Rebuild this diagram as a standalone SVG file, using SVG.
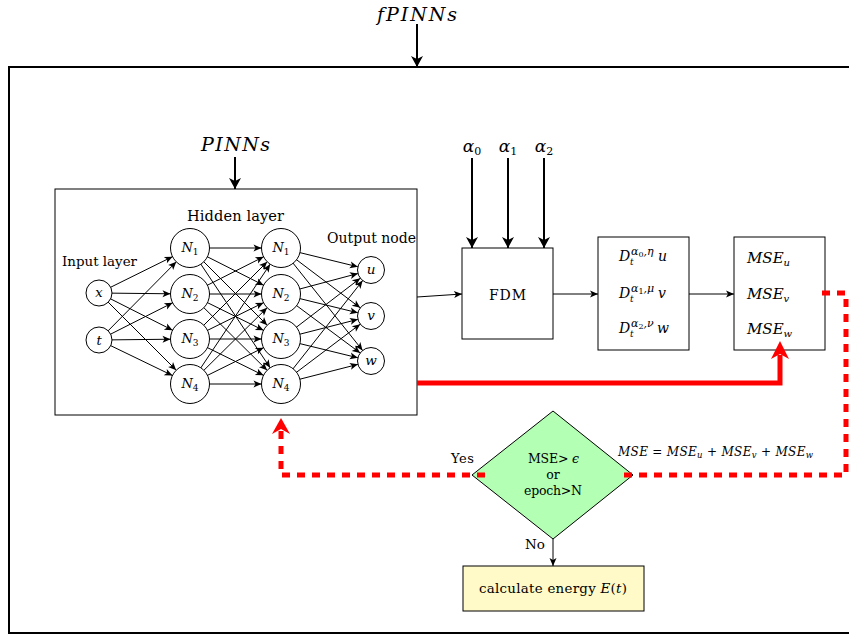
<svg xmlns="http://www.w3.org/2000/svg" width="849" height="639" viewBox="0 0 849 639">
<style>
.t{font-family:"DejaVu Serif","Liberation Serif",serif;fill:#000}
.mi{font-family:"DejaVu Serif","Liberation Serif",serif;font-style:italic;fill:#000}
.rm{font-style:normal}
.ln{stroke:#000;stroke-width:1;fill:none}
.th{stroke:#000;stroke-width:2;fill:none}
.nd{fill:#fff;stroke:#000;stroke-width:1}
.bx{fill:#fff;stroke:#000;stroke-width:1}
</style>
<defs>
<marker id="ah" markerUnits="userSpaceOnUse" orient="auto" overflow="visible" refX="0" refY="0" markerWidth="10" markerHeight="10"><path d="M0,0 L-8,-3.5 L-6,0 L-8,3.5 z" fill="#000"/></marker>
<marker id="ahH" markerUnits="userSpaceOnUse" orient="auto" overflow="visible" refX="19.5" refY="0" markerWidth="10" markerHeight="10"><path d="M0,0 L-8,-3.5 L-6,0 L-8,3.5 z" fill="#000"/></marker>
<marker id="ahO" markerUnits="userSpaceOnUse" orient="auto" overflow="visible" refX="13.5" refY="0" markerWidth="10" markerHeight="10"><path d="M0,0 L-8,-3.5 L-6,0 L-8,3.5 z" fill="#000"/></marker>
<marker id="ahT" markerUnits="userSpaceOnUse" orient="auto" overflow="visible" refX="0" refY="0" markerWidth="12" markerHeight="12"><path d="M0,0 L-11,-6 L-8,0 L-11,6 z" fill="#000"/></marker>
</defs>

<g id="outer"><rect x="9" y="67" width="870" height="566" fill="none" stroke="#000" stroke-width="2"/></g>
<g id="title"><text class="mi" x="417" y="21" font-size="19" text-anchor="middle" textLength="80" lengthAdjust="spacing">fPINNs</text></g>
<g id="pinns-label"><text class="mi" x="235.5" y="151" font-size="19" text-anchor="middle" textLength="69" lengthAdjust="spacing">PINNs</text></g>
<g id="pinns-box"><rect class="bx" x="55" y="189" width="362" height="226"/></g>

<g id="connectors">
<line class="th" x1="417" y1="24" x2="417" y2="67" marker-end="url(#ahT)"/>
<line class="th" x1="235" y1="157" x2="235" y2="189" marker-end="url(#ahT)"/>
<line class="th" x1="472" y1="158" x2="472" y2="248" marker-end="url(#ahT)"/>
<line class="th" x1="508" y1="158" x2="508" y2="248" marker-end="url(#ahT)"/>
<line class="th" x1="544" y1="158" x2="544" y2="248" marker-end="url(#ahT)"/>
<line class="ln" x1="417" y1="297" x2="462" y2="294" marker-end="url(#ah)"/>
<line class="ln" x1="553" y1="294" x2="598" y2="294" marker-end="url(#ah)"/>
<line class="ln" x1="689" y1="294" x2="734" y2="294" marker-end="url(#ah)"/>
<line class="ln" x1="553" y1="539" x2="553" y2="566" marker-end="url(#ah)"/>
<line class="ln" x1="99" y1="293" x2="190" y2="248" marker-end="url(#ahH)"/>
<line class="ln" x1="99" y1="293" x2="190" y2="294" marker-end="url(#ahH)"/>
<line class="ln" x1="99" y1="293" x2="190" y2="339" marker-end="url(#ahH)"/>
<line class="ln" x1="99" y1="293" x2="190" y2="384" marker-end="url(#ahH)"/>
<line class="ln" x1="99" y1="340" x2="190" y2="248" marker-end="url(#ahH)"/>
<line class="ln" x1="99" y1="340" x2="190" y2="294" marker-end="url(#ahH)"/>
<line class="ln" x1="99" y1="340" x2="190" y2="339" marker-end="url(#ahH)"/>
<line class="ln" x1="99" y1="340" x2="190" y2="384" marker-end="url(#ahH)"/>
<line class="ln" x1="190" y1="248" x2="281" y2="248" marker-end="url(#ahH)"/>
<line class="ln" x1="190" y1="248" x2="281" y2="294" marker-end="url(#ahH)"/>
<line class="ln" x1="190" y1="248" x2="281" y2="339" marker-end="url(#ahH)"/>
<line class="ln" x1="190" y1="248" x2="281" y2="384" marker-end="url(#ahH)"/>
<line class="ln" x1="190" y1="294" x2="281" y2="248" marker-end="url(#ahH)"/>
<line class="ln" x1="190" y1="294" x2="281" y2="294" marker-end="url(#ahH)"/>
<line class="ln" x1="190" y1="294" x2="281" y2="339" marker-end="url(#ahH)"/>
<line class="ln" x1="190" y1="294" x2="281" y2="384" marker-end="url(#ahH)"/>
<line class="ln" x1="190" y1="339" x2="281" y2="248" marker-end="url(#ahH)"/>
<line class="ln" x1="190" y1="339" x2="281" y2="294" marker-end="url(#ahH)"/>
<line class="ln" x1="190" y1="339" x2="281" y2="339" marker-end="url(#ahH)"/>
<line class="ln" x1="190" y1="339" x2="281" y2="384" marker-end="url(#ahH)"/>
<line class="ln" x1="190" y1="384" x2="281" y2="248" marker-end="url(#ahH)"/>
<line class="ln" x1="190" y1="384" x2="281" y2="294" marker-end="url(#ahH)"/>
<line class="ln" x1="190" y1="384" x2="281" y2="339" marker-end="url(#ahH)"/>
<line class="ln" x1="190" y1="384" x2="281" y2="384" marker-end="url(#ahH)"/>
<line class="ln" x1="281" y1="248" x2="371" y2="270" marker-end="url(#ahO)"/>
<line class="ln" x1="281" y1="248" x2="371" y2="316" marker-end="url(#ahO)"/>
<line class="ln" x1="281" y1="248" x2="371" y2="361" marker-end="url(#ahO)"/>
<line class="ln" x1="281" y1="294" x2="371" y2="270" marker-end="url(#ahO)"/>
<line class="ln" x1="281" y1="294" x2="371" y2="316" marker-end="url(#ahO)"/>
<line class="ln" x1="281" y1="294" x2="371" y2="361" marker-end="url(#ahO)"/>
<line class="ln" x1="281" y1="339" x2="371" y2="270" marker-end="url(#ahO)"/>
<line class="ln" x1="281" y1="339" x2="371" y2="316" marker-end="url(#ahO)"/>
<line class="ln" x1="281" y1="339" x2="371" y2="361" marker-end="url(#ahO)"/>
<line class="ln" x1="281" y1="384" x2="371" y2="270" marker-end="url(#ahO)"/>
<line class="ln" x1="281" y1="384" x2="371" y2="316" marker-end="url(#ahO)"/>
<line class="ln" x1="281" y1="384" x2="371" y2="361" marker-end="url(#ahO)"/>
</g>

<g id="layer-labels">
<text class="t" x="99.5" y="266" font-size="13.4" text-anchor="middle" textLength="75" lengthAdjust="spacing">Input layer</text>
<text class="t" x="235.5" y="221" font-size="14.6" text-anchor="middle" textLength="97" lengthAdjust="spacing">Hidden layer</text>
<text class="t" x="371.5" y="243" font-size="14" text-anchor="middle" textLength="89" lengthAdjust="spacing">Output node</text>
</g>

<g id="in-x"><circle class="nd" cx="99" cy="293" r="13"/><text class="mi" x="99" y="297" font-size="13" text-anchor="middle">x</text></g>
<g id="in-t"><circle class="nd" cx="99" cy="340" r="13"/><text class="mi" x="99" y="344.5" font-size="13" text-anchor="middle">t</text></g>

<g id="h1-n1"><circle class="nd" cx="190" cy="248" r="19.5"/><text class="mi" x="190" y="252" font-size="13" text-anchor="middle">N<tspan class="rm" font-size="9" dy="3">1</tspan></text></g>
<g id="h1-n2"><circle class="nd" cx="190" cy="294" r="19.5"/><text class="mi" x="190" y="298" font-size="13" text-anchor="middle">N<tspan class="rm" font-size="9" dy="3">2</tspan></text></g>
<g id="h1-n3"><circle class="nd" cx="190" cy="339" r="19.5"/><text class="mi" x="190" y="343" font-size="13" text-anchor="middle">N<tspan class="rm" font-size="9" dy="3">3</tspan></text></g>
<g id="h1-n4"><circle class="nd" cx="190" cy="384" r="19.5"/><text class="mi" x="190" y="388" font-size="13" text-anchor="middle">N<tspan class="rm" font-size="9" dy="3">4</tspan></text></g>

<g id="h2-n1"><circle class="nd" cx="281" cy="248" r="19.5"/><text class="mi" x="281" y="252" font-size="13" text-anchor="middle">N<tspan class="rm" font-size="9" dy="3">1</tspan></text></g>
<g id="h2-n2"><circle class="nd" cx="281" cy="294" r="19.5"/><text class="mi" x="281" y="298" font-size="13" text-anchor="middle">N<tspan class="rm" font-size="9" dy="3">2</tspan></text></g>
<g id="h2-n3"><circle class="nd" cx="281" cy="339" r="19.5"/><text class="mi" x="281" y="343" font-size="13" text-anchor="middle">N<tspan class="rm" font-size="9" dy="3">3</tspan></text></g>
<g id="h2-n4"><circle class="nd" cx="281" cy="384" r="19.5"/><text class="mi" x="281" y="388" font-size="13" text-anchor="middle">N<tspan class="rm" font-size="9" dy="3">4</tspan></text></g>

<g id="out-u"><circle class="nd" cx="371" cy="270" r="13.5"/><text class="mi" x="371" y="274" font-size="13.5" text-anchor="middle">u</text></g>
<g id="out-v"><circle class="nd" cx="371" cy="316" r="13.5"/><text class="mi" x="371" y="320" font-size="13.5" text-anchor="middle">v</text></g>
<g id="out-w"><circle class="nd" cx="371" cy="361" r="13.5"/><text class="mi" x="371" y="365" font-size="13.5" text-anchor="middle">w</text></g>

<g id="alphas">
<text class="mi" x="472" y="152" font-size="17" text-anchor="middle">α<tspan class="rm" font-size="11" dy="3">0</tspan></text>
<text class="mi" x="508" y="152" font-size="17" text-anchor="middle">α<tspan class="rm" font-size="11" dy="3">1</tspan></text>
<text class="mi" x="544" y="152" font-size="17" text-anchor="middle">α<tspan class="rm" font-size="11" dy="3">2</tspan></text>
</g>

<g id="fdm"><rect class="bx" x="462" y="248" width="91" height="91"/><text class="t" x="507.5" y="299.5" font-size="14" text-anchor="middle" textLength="37" lengthAdjust="spacing">FDM</text></g>

<g id="deriv">
<rect class="bx" x="598" y="237" width="91" height="113"/>
<text class="mi" x="619" y="261" font-size="14">D</text>
<text class="mi" x="630" y="265" font-size="9">t</text>
<text class="mi" x="631" y="255" font-size="11">α<tspan class="rm" font-size="8" dy="2">0</tspan><tspan dy="-2">,η</tspan></text>
<text class="mi" x="658" y="261" font-size="14">u</text>
<text class="mi" x="619" y="298" font-size="14">D</text>
<text class="mi" x="630" y="302" font-size="9">t</text>
<text class="mi" x="631" y="292" font-size="11">α<tspan class="rm" font-size="8" dy="2">1</tspan><tspan dy="-2">,μ</tspan></text>
<text class="mi" x="658" y="298" font-size="14">v</text>
<text class="mi" x="619" y="333" font-size="14">D</text>
<text class="mi" x="630" y="337" font-size="9">t</text>
<text class="mi" x="631" y="327" font-size="11">α<tspan class="rm" font-size="8" dy="2">2</tspan><tspan dy="-2">,ν</tspan></text>
<text class="mi" x="657" y="333" font-size="14">w</text>
</g>

<g id="mse">
<rect class="bx" x="734" y="237" width="91" height="113"/>
<text class="mi" x="747" y="263" font-size="15">MSE<tspan font-size="10" dy="3">u</tspan></text>
<text class="mi" x="747" y="299" font-size="15">MSE<tspan font-size="10" dy="3">v</tspan></text>
<text class="mi" x="747" y="334" font-size="15">MSE<tspan font-size="10" dy="3">w</tspan></text>
</g>

<g id="decision">
<polygon points="553,411 633,475 553,539 472,475" fill="#b3ffb3" stroke="#000" stroke-width="1"/>
<text class="t" x="553.5" y="463" font-size="12.5" text-anchor="middle" textLength="51" lengthAdjust="spacing">MSE&gt; <tspan font-style="italic">ϵ</tspan></text>
<text class="t" x="553" y="479" font-size="12.5" text-anchor="middle">or</text>
<text class="t" x="553" y="495" font-size="12.5" text-anchor="middle" textLength="58" lengthAdjust="spacing">epoch&gt;N</text>
</g>

<g id="energy">
<rect x="463" y="566" width="181" height="45" fill="#fffac8" stroke="#000" stroke-width="1"/>
<text class="t" x="553" y="593" font-size="13.4" text-anchor="middle" textLength="148" lengthAdjust="spacing">calculate energy <tspan font-style="italic">E</tspan>(<tspan font-style="italic">t</tspan>)</text>
</g>

<g id="red-connectors">
<polyline points="417,383 780,383 780,355" fill="none" stroke="#ff0000" stroke-width="5"/>
<polygon points="780,341 789,359 780,354 771,359" fill="#ff0000"/>
<polyline points="822,293 846,293 846,475 622,475" fill="none" stroke="#ff0000" stroke-width="5" stroke-dasharray="8,7"/>
<polyline points="485,475 281,475 281,431" fill="none" stroke="#ff0000" stroke-width="5" stroke-dasharray="8,7"/>
<polygon points="281,418 290,434 281,429 272,434" fill="#ff0000"/>
</g>

<g id="edge-labels">
<text class="t" x="474" y="463" font-size="13" text-anchor="end" textLength="23" lengthAdjust="spacing">Yes</text>
<text class="t" x="545" y="549" font-size="13.5" text-anchor="end">No</text>
<text class="mi" x="618" y="456" font-size="12" textLength="195" lengthAdjust="spacing">MSE = MSE<tspan font-size="8.5" dy="2">u</tspan><tspan dy="-2"> + MSE</tspan><tspan font-size="8.5" dy="2">v</tspan><tspan dy="-2"> + MSE</tspan><tspan font-size="8.5" dy="2">w</tspan></text>
</g>
</svg>
